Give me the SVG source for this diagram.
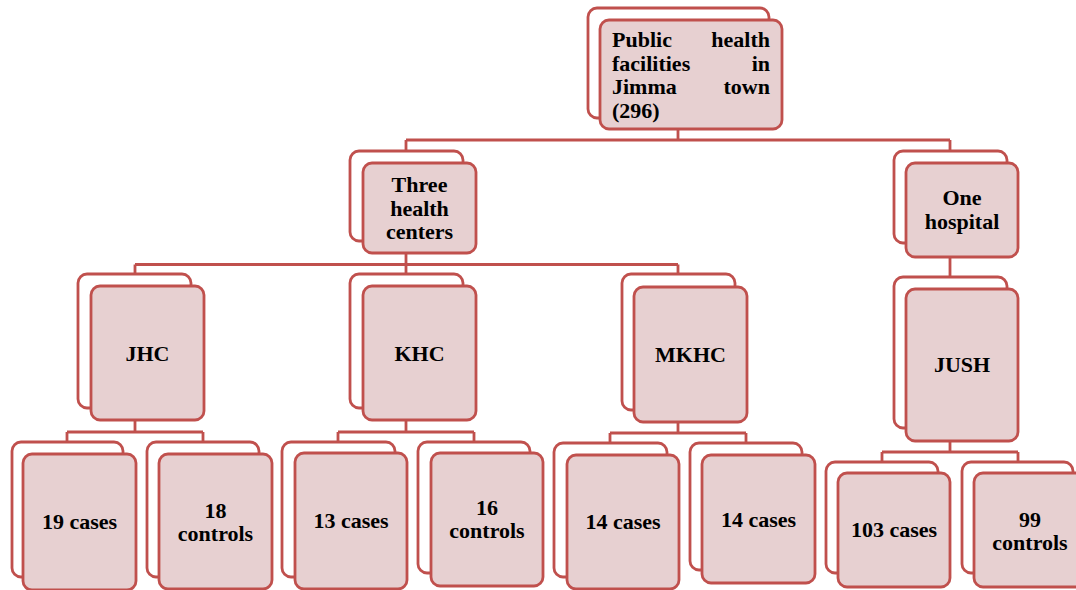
<svg xmlns="http://www.w3.org/2000/svg" width="1076" height="590" viewBox="0 0 1076 590">
<style>
.bk{fill:#ffffff;stroke:#c0504d;stroke-width:2.8}
.fr{fill:#e7d0d1;stroke:#c0504d;stroke-width:2.8}
.cn{fill:none;stroke:#c0504d;stroke-width:2.8}
text{font-family:'Liberation Serif','Times New Roman',serif;font-weight:700;font-size:22px;fill:#000}
.c{text-anchor:middle}
.e{text-anchor:end}
</style>
<rect width="1076" height="590" fill="#ffffff"/>
<g id="connectors">
<path class="cn" d="M678,129V140M406,140H950M406,140V151M950,140V151"/>
<path class="cn" d="M406,253V264.5M135,264.5H678M135,264.5V274M406,264.5V274M678,264.5V274"/>
<path class="cn" d="M950,257V277"/>
<path class="cn" d="M135,420V432M67,432H203M67,432V442M203,432V442"/>
<path class="cn" d="M406,420V432M338,432H474M338,432V442M474,432V442"/>
<path class="cn" d="M678,422V433M610,433H746M610,433V443M746,433V443"/>
<path class="cn" d="M950,441V452M882,452H1018M882,452V462M1018,452V462"/>
</g>
<g id="root">
<rect class="bk" x="588" y="8" width="181" height="110" rx="9"/>
<rect class="fr" x="600" y="20" width="182" height="109" rx="9"/>
<text x="612" y="47">Public</text><text class="e" x="770" y="47">health</text>
<text x="612" y="70.5">facilities</text><text class="e" x="770" y="70.5">in</text>
<text x="612" y="94">Jimma</text><text class="e" x="770" y="94">town</text>
<text x="612" y="117.5">(296)</text>
</g>
<g id="three-health-centers">
<rect class="bk" x="350" y="151" width="113" height="90" rx="9"/>
<rect class="fr" x="363" y="163" width="113" height="90" rx="9"/>
<text class="c" x="419.5" y="192">Three</text>
<text class="c" x="419.5" y="215.5">health</text>
<text class="c" x="419.5" y="239">centers</text>
</g>
<g id="one-hospital">
<rect class="bk" x="894" y="151" width="113" height="92" rx="9"/>
<rect class="fr" x="906" y="163" width="112" height="94" rx="9"/>
<text class="c" x="962" y="205">One</text>
<text class="c" x="962" y="228.5">hospital</text>
</g>
<g id="jhc">
<rect class="bk" x="78" y="274" width="113" height="134" rx="9"/>
<rect class="fr" x="91" y="286" width="113" height="134" rx="9"/>
<text class="c" x="147.5" y="361">JHC</text>
</g>
<g id="khc">
<rect class="bk" x="350" y="274" width="113" height="134" rx="9"/>
<rect class="fr" x="363" y="286" width="113" height="134" rx="9"/>
<text class="c" x="419.5" y="361">KHC</text>
</g>
<g id="mkhc">
<rect class="bk" x="622" y="274" width="113" height="136" rx="9"/>
<rect class="fr" x="634" y="287" width="113" height="135" rx="9"/>
<text class="c" x="690.5" y="362">MKHC</text>
</g>
<g id="jush">
<rect class="bk" x="894" y="277" width="113" height="151" rx="9"/>
<rect class="fr" x="906" y="289" width="112" height="152" rx="9"/>
<text class="c" x="962" y="372">JUSH</text>
</g>
<g id="jhc-cases">
<rect class="bk" x="12" y="442" width="111" height="135" rx="9"/>
<rect class="fr" x="23" y="454" width="113" height="136" rx="9"/>
<text class="c" x="79.5" y="529">19 cases</text>
</g>
<g id="jhc-controls">
<rect class="bk" x="147" y="442" width="112" height="135" rx="9"/>
<rect class="fr" x="159" y="454" width="113" height="135" rx="9"/>
<text class="c" x="215.5" y="518">18</text>
<text class="c" x="215.5" y="541">controls</text>
</g>
<g id="khc-cases">
<rect class="bk" x="282" y="442" width="113" height="135" rx="9"/>
<rect class="fr" x="295" y="453" width="112" height="136" rx="9"/>
<text class="c" x="351" y="528">13 cases</text>
</g>
<g id="khc-controls">
<rect class="bk" x="418" y="442" width="112" height="131" rx="9"/>
<rect class="fr" x="431" y="453" width="112" height="133" rx="9"/>
<text class="c" x="487" y="515">16</text>
<text class="c" x="487" y="538">controls</text>
</g>
<g id="mkhc-cases">
<rect class="bk" x="554" y="443" width="113" height="134" rx="9"/>
<rect class="fr" x="567" y="455" width="112" height="134" rx="9"/>
<text class="c" x="623" y="529">14 cases</text>
</g>
<g id="mkhc-cases-2">
<rect class="bk" x="690" y="443" width="112" height="127" rx="9"/>
<rect class="fr" x="702" y="455" width="113" height="128" rx="9"/>
<text class="c" x="758.5" y="527">14 cases</text>
</g>
<g id="jush-cases">
<rect class="bk" x="826" y="462" width="112" height="111" rx="9"/>
<rect class="fr" x="838" y="473" width="112" height="114" rx="9"/>
<text class="c" x="894" y="537">103 cases</text>
</g>
<g id="jush-controls">
<rect class="bk" x="962" y="462" width="111" height="111" rx="9"/>
<rect class="fr" x="974" y="473" width="112" height="114" rx="9"/>
<text class="c" x="1030" y="527">99</text>
<text class="c" x="1030" y="550">controls</text>
</g>
</svg>
